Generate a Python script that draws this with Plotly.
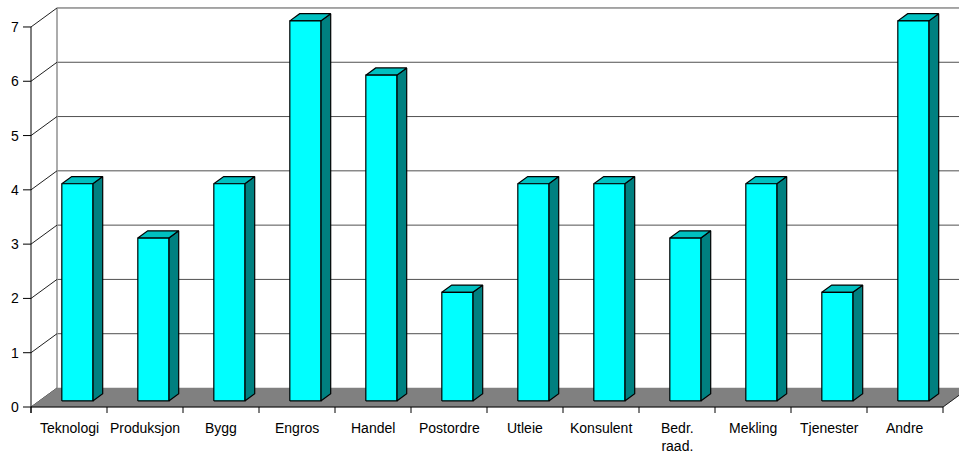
import plotly.graph_objects as go

categories = ["Teknologi", "Produksjon", "Bygg", "Engros", "Handel", "Postordre",
              "Utleie", "Konsulent", "Bedr.<br>raad.", "Mekling", "Tjenester", "Andre"]
values = [4, 3, 4, 7, 6, 2, 4, 4, 3, 4, 2, 7]
y_ticks = [0, 1, 2, 3, 4, 5, 6, 7]

# pixel geometry -> data units
PX_X = 76.0     # px per category
PX_Y = 54.29    # px per unit value
X0_PX = 31.0
Y0_PX = 407.0
W, H = 959, 454

DDX = 26 / PX_X   # full depth offset (x)
DDY = 19 / PX_Y   # full depth offset (y)
F_FRONT = 0.32    # bar front depth fraction
F_DEPTH = 0.38    # bar depth fraction
BAR_W = 31 / PX_X

n = len(categories)
ymax = max(y_ticks)
FONT = dict(family="Liberation Sans, Arial", size=14, color="black")

fig = go.Figure()

def poly(xs, ys, fill, line="black", width=1.2):
    fig.add_trace(go.Scatter(x=xs + [xs[0]], y=ys + [ys[0]], mode="lines", fill="toself",
                             fillcolor=fill, line=dict(color=line, width=width),
                             hoverinfo="skip", showlegend=False))

def seg(xs, ys, color, width=1):
    fig.add_trace(go.Scatter(x=xs, y=ys, mode="lines", line=dict(color=color, width=width),
                             hoverinfo="skip", showlegend=False))

# back wall gridlines
for k in y_ticks[1:]:
    seg([DDX, n + DDX], [k + DDY, k + DDY], "#505050", 1)
# back wall left edge
seg([DDX, DDX], [DDY, ymax + DDY], "#909090", 1.5)
# side wall diagonals
for k in y_ticks:
    seg([0, DDX], [k, k + DDY], "#202020", 1)

# floor
poly([0, n, n + DDX, DDX], [0, 0, DDY, DDY], "#808080", line="#808080", width=0.5)
seg([n, n + DDX], [0, DDY], "#202020", 1)

# bars
for i, v in enumerate(values):
    c = i + 0.5
    xl = c - BAR_W / 2 + F_FRONT * DDX
    xr = c + BAR_W / 2 + F_FRONT * DDX
    yb = F_FRONT * DDY
    yt = v + F_FRONT * DDY
    ox = F_DEPTH * DDX
    oy = F_DEPTH * DDY
    poly([xr, xr + ox, xr + ox, xr], [yb, yb + oy, yt + oy, yt], "#008080")
    poly([xl, xr, xr + ox, xl + ox], [yt, yt, yt + oy, yt + oy], "#00C0C0")
    poly([xl, xr, xr, xl], [yb, yb, yt, yt], "#00FFFF")

# axes lines
tick_x = 8 / PX_X
tick_y = 6 / PX_Y
seg([0, 0], [-tick_y, ymax], "black", 1)
seg([0, n], [0, 0], "black", 1)
for k in y_ticks:
    seg([-tick_x, 0], [k, k], "black", 1)
for j in range(n + 1):
    seg([j, j], [0, -tick_y], "black", 1)

annotations = []
for k in y_ticks:
    annotations.append(dict(x=-10 / PX_X, y=k, xref="x", yref="y", text=str(k),
                            showarrow=False, xanchor="right", yanchor="middle", font=FONT))
for i, cat in enumerate(categories):
    annotations.append(dict(x=i + 0.5, y=-11 / PX_Y, xref="x", yref="y", text=cat,
                            showarrow=False, xanchor="center", yanchor="top", font=FONT))

fig.update_layout(
    width=W, height=H,
    margin=dict(l=0, r=0, t=0, b=0),
    paper_bgcolor="white", plot_bgcolor="white",
    xaxis=dict(range=[-X0_PX / PX_X, (W - X0_PX) / PX_X], visible=False, fixedrange=True),
    yaxis=dict(range=[(Y0_PX - H) / PX_Y, Y0_PX / PX_Y], visible=False, fixedrange=True),
    annotations=annotations,
    hovermode=False,
    showlegend=False,
)

fig.write_html("out.html", config={"displayModeBar": False})
